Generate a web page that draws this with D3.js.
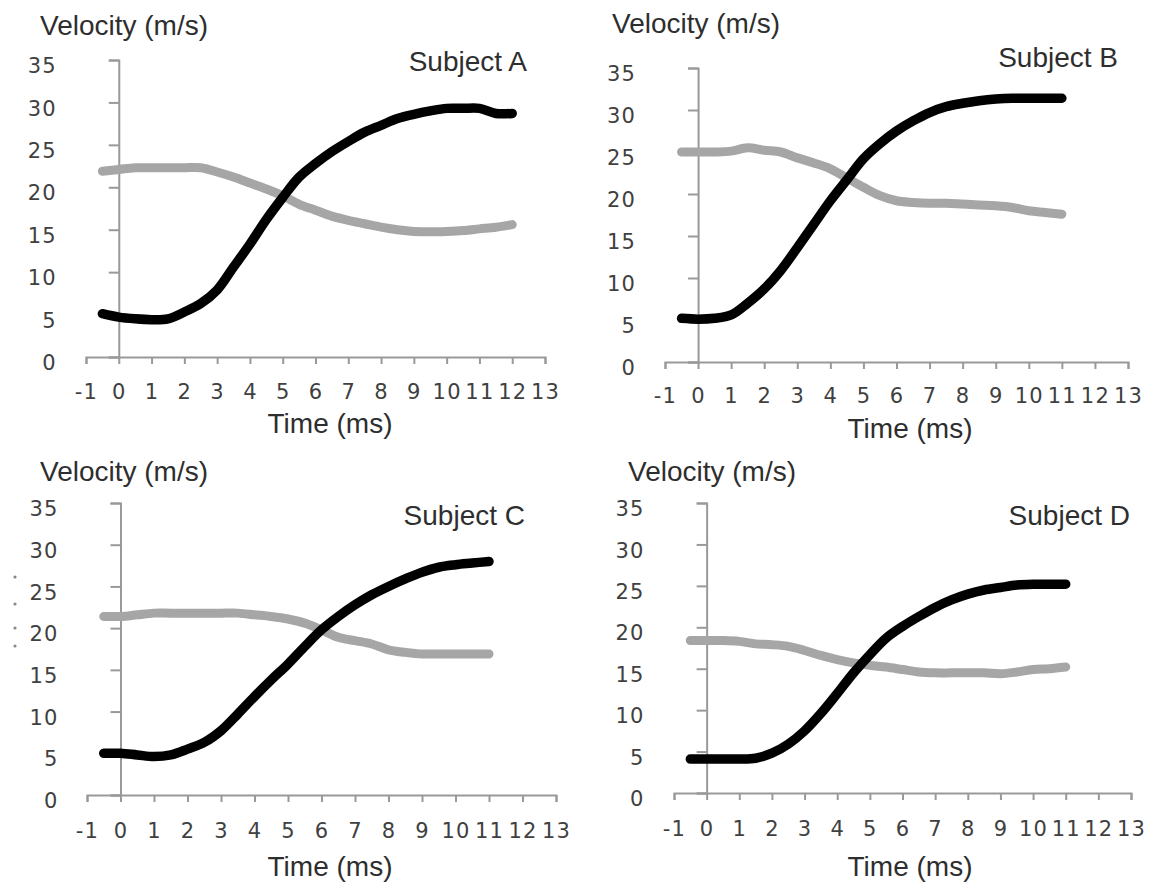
<!DOCTYPE html>
<html>
<head>
<meta charset="utf-8">
<script src="https://cdn.jsdelivr.net/npm/d3@7"></script>
<style>
  html, body { margin: 0; padding: 0; background: #fff; }
  svg { display: block; }
</style>
</head>
<body>
<script>
// ---------------- data ----------------
const subjects = ["Subject A", "Subject B", "Subject C", "Subject D"];
const xTicks = [-1, 0, 1, 2, 3, 4, 5, 6, 7, 8, 9, 10, 11, 12, 13];
const yTicks = [0, 5, 10, 15, 20, 25, 30, 35];
const yTitle = "Velocity (m/s)";
const xTitle = "Time (ms)";

const timeA = [-0.5,0,0.5,1,1.5,2,2.5,3,3.5,4,4.5,5,5.5,6,6.5,7,7.5,8,8.5,9,9.5,10,10.5,11,11.5,12];
const blackA = [5.1,4.7,4.5,4.4,4.5,5.3,6.3,7.9,10.6,13.3,16.2,18.8,21.2,22.8,24.2,25.4,26.5,27.3,28.1,28.6,29.0,29.3,29.3,29.3,28.7,28.7];
const grayA  = [21.9,22.1,22.3,22.3,22.3,22.3,22.3,21.8,21.2,20.5,19.8,19.0,18.0,17.3,16.6,16.1,15.7,15.3,15.0,14.8,14.75,14.8,14.9,15.1,15.3,15.6];

const timeBCD = [-0.5,0,0.5,1,1.5,2,2.5,3,3.5,4,4.5,5,5.5,6,6.5,7,7.5,8,8.5,9,9.5,10,10.5,11];
const blackB = [5.2,5.1,5.2,5.6,7.0,8.7,10.9,13.6,16.4,19.2,21.7,24.2,26.0,27.5,28.7,29.7,30.4,30.8,31.1,31.3,31.4,31.4,31.4,31.4];
const grayB  = [25.0,25.0,25.0,25.1,25.5,25.2,25.0,24.3,23.7,23.0,21.9,20.8,19.8,19.2,19.0,18.9,18.9,18.8,18.7,18.6,18.4,18.0,17.8,17.6];
const blackC = [5.0,5.0,4.8,4.6,4.8,5.5,6.3,7.7,9.7,11.8,13.8,15.7,17.8,19.8,21.4,22.8,24.0,25.0,25.9,26.7,27.3,27.6,27.8,28.0];
const grayC  = [21.4,21.4,21.6,21.8,21.8,21.8,21.8,21.8,21.8,21.6,21.4,21.1,20.6,19.8,18.9,18.5,18.1,17.4,17.1,16.9,16.9,16.9,16.9,16.9];
const blackD = [4.1,4.1,4.1,4.1,4.2,4.8,5.9,7.5,9.6,12.0,14.5,16.7,18.7,20.1,21.3,22.4,23.3,24.0,24.5,24.8,25.1,25.2,25.2,25.2];
const grayD  = [18.4,18.4,18.4,18.3,18.0,17.9,17.7,17.2,16.6,16.1,15.7,15.4,15.2,14.9,14.6,14.5,14.5,14.5,14.5,14.4,14.6,14.9,15.0,15.2];

const panelTimes = [timeA, timeBCD, timeBCD, timeBCD];
const panelBlack = [blackA, blackB, blackC, blackD];
const panelGray  = [grayA, grayB, grayC, grayD];

// ---------------- layout ----------------
const W = 1157, H = 886;
const layout = [
  { x0: 86,  x1: 545,  y0: 357, y1: 60,  velX: 40,  velY: 35,  subX: 527,  subY: 71,  timeX: 330, timeY: 433, tickLabY: 399 },
  { x0: 665, x1: 1128, y0: 362, y1: 68,  velX: 612, velY: 33,  subX: 1118, subY: 67,  timeX: 910, timeY: 438, tickLabY: 403 },
  { x0: 87,  x1: 556,  y0: 795, y1: 503, velX: 40,  velY: 481, subX: 525,  subY: 525, timeX: 330, timeY: 876, tickLabY: 838 },
  { x0: 674, x1: 1131, y0: 793, y1: 503, velX: 628, velY: 481, subX: 1130, subY: 525, timeX: 910, timeY: 876, tickLabY: 836 }
];

const svg = d3.select("body").append("svg")
  .attr("width", W).attr("height", H)
  .style("background", "#fff");

const axisColor = "#999999";
const tickTextColor = "#404040";
const titleColor = "#2e2e2e";

subjects.forEach((name, i) => {
  const L = layout[i];
  const x = d3.scaleLinear().domain([-1, 13]).range([L.x0, L.x1]);
  const y = d3.scaleLinear().domain([0, 35]).range([L.y0, L.y1]);
  const g = svg.append("g");

  const fmt = d => String(d);

  // y axis at t = 0
  const yAxis = g.append("g")
    .attr("transform", `translate(${x(0)},0)`)
    .call(d3.axisLeft(y).tickValues(yTicks).tickFormat(fmt).tickSize(10).tickSizeOuter(10).tickPadding(52));
  // x axis at v = 0
  const xAxis = g.append("g")
    .attr("transform", `translate(0,${y(0)})`)
    .call(d3.axisBottom(x).tickValues(xTicks).tickFormat(fmt).tickSize(7).tickSizeOuter(7).tickPadding(L.tickLabY - L.y0 - 22));

  [yAxis, xAxis].forEach(a => {
    a.select(".domain").attr("stroke", axisColor).attr("stroke-width", 2);
    a.selectAll(".tick line").attr("stroke", axisColor).attr("stroke-width", 2);
    a.selectAll(".tick text")
      .attr("fill", tickTextColor)
      .style("font-family", "'DejaVu Sans', Verdana, sans-serif")
      .style("font-size", "21px")
      .style("letter-spacing", "1.2px");
  });
  yAxis.selectAll(".tick text").attr("dy", "0.6em");

  // series
  const line = d3.line()
    .x((d) => x(d[0]))
    .y((d) => y(d[1]))
    .curve(d3.curveCatmullRom.alpha(0.5));

  const times = panelTimes[i];
  const grayPts = times.map((t, k) => [t, panelGray[i][k]]);
  const blackPts = times.map((t, k) => [t, panelBlack[i][k]]);

  g.append("path").datum(grayPts)
    .attr("d", line).attr("fill", "none")
    .attr("stroke", "#a6a6a6").attr("stroke-width", 9)
    .attr("stroke-linecap", "round").attr("stroke-linejoin", "round");
  g.append("path").datum(blackPts)
    .attr("d", line).attr("fill", "none")
    .attr("stroke", "#000").attr("stroke-width", 9.5)
    .attr("stroke-linecap", "round").attr("stroke-linejoin", "round");

  // titles
  const titleFont = "'Liberation Sans', Arial, sans-serif";
  g.append("text").attr("x", L.velX).attr("y", L.velY)
    .attr("fill", titleColor).style("font-family", titleFont).style("font-size", "28px")
    .text(yTitle);
  g.append("text").attr("x", L.subX).attr("y", L.subY).attr("text-anchor", "end")
    .attr("fill", titleColor).style("font-family", titleFont).style("font-size", "28px")
    .text(name);
  g.append("text").attr("x", L.timeX).attr("y", L.timeY).attr("text-anchor", "middle")
    .attr("fill", titleColor).style("font-family", titleFont).style("font-size", "28px")
    .text(xTitle);
});

// small scan specks left of the Subject C axis
svg.selectAll("circle.speck").data([577, 604, 628, 646]).enter().append("circle")
  .attr("class", "speck").attr("cx", 15).attr("cy", d => d).attr("r", 1.6).attr("fill", "#888");
</script>
</body>
</html>
